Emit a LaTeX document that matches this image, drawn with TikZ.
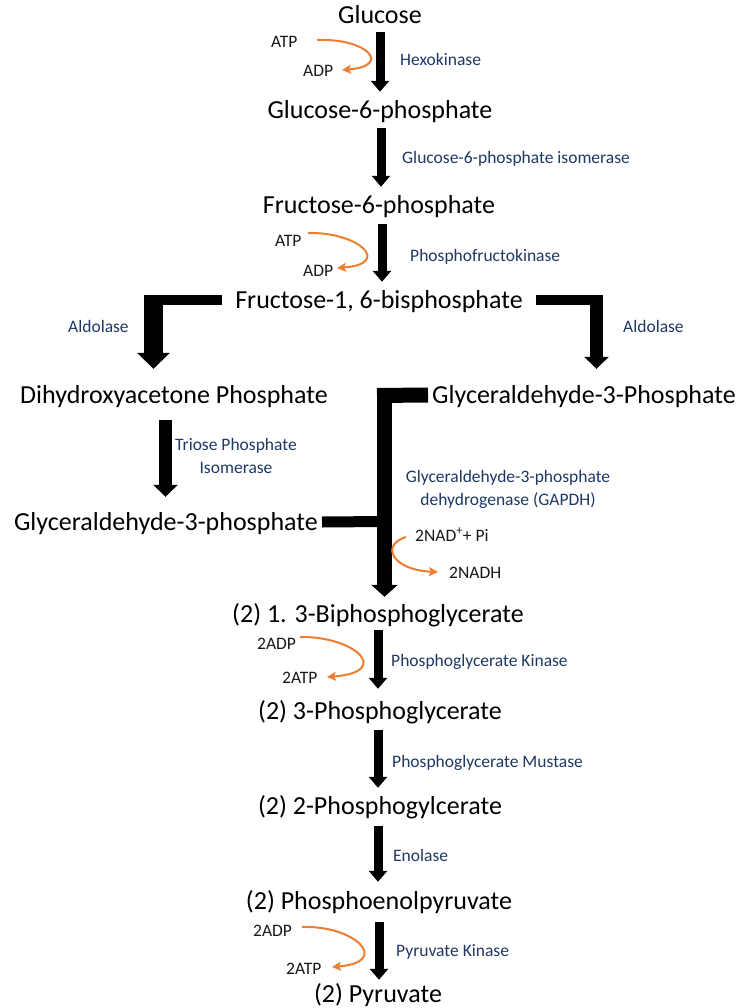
\documentclass[tikz,border=0pt]{standalone}
\usepackage{fontspec}
\setmainfont{Carlito}
\usetikzlibrary{arrows.meta}
\definecolor{enzc}{HTML}{1F3864}
\definecolor{orgc}{HTML}{ED7D31}
\begin{document}
\begin{tikzpicture}[x=1pt,y=-1pt,
  main/.style={font=\fontsize{26}{30}\selectfont, inner sep=0pt, text height=20pt, text depth=4pt},
  enz/.style={font=\fontsize{17.5}{22.5}\selectfont, text=enzc, inner sep=0pt, align=center},
  enzw/.style={enz, anchor=west, text height=12.5pt, text depth=3.5pt},
  cof/.style={font=\fontsize{17.5}{20}\selectfont, text=black!90, inner sep=0pt, anchor=west, text height=12pt, text depth=0pt},
  blk/.style={line width=9pt, -{Triangle[width=18pt,length=11pt]}},
  curv/.style={draw=orgc, line width=2pt, -{Stealth[length=9pt,width=9pt,inset=2pt]}}
]
\fill[white] (0,0) rectangle (744,1008);
\useasboundingbox (0,0) rectangle (744,1008);

% main compounds
\node[main] (glc) at (380,16) {Glucose};
\node[main] (g6p) at (380,111) {Glucose-6-phosphate};
\node[main] (f6p) at (379,206) {Fructose-6-phosphate};
\node[main] (f16) at (379,300) {Fructose-1, 6-bisphosphate};
\node[main] (dhap) at (174,395) {Dihydroxyacetone Phosphate};
\node[main, anchor=west] (gapr) at (432,395) {Glyceraldehyde-3-Phosphate};
\node[main, anchor=east] (gapl) at (318,522) {Glyceraldehyde-3-phosphate};
\node[main] (bpg) at (378,614) {(2) 1. 3-Biphosphoglycerate};
\node[main] (pg3) at (380,711) {(2) 3-Phosphoglycerate};
\node[main] (pg2) at (380,806) {(2) 2-Phosphogylcerate};
\node[main] (pep) at (379,901) {(2) Phosphoenolpyruvate};
\node[main] (pyr) at (378,994) {(2) Pyruvate};

% enzymes
\node[enzw] (e1) at (400,61.5) {Hexokinase};
\node[enzw] (e2) at (402,159.5) {Glucose-6-phosphate isomerase};
\node[enzw] (e3) at (410,256.5) {Phosphofructokinase};
\node[enzw] (e4) at (68,327.5) {Aldolase};
\node[enzw] (e5) at (623,327.5) {Aldolase};
\node[enz] (e6) at (236,456) {Triose Phosphate\\Isomerase};
\node[enz] (e7) at (508,489.5) {Glyceraldehyde-3-phosphate\\dehydrogenase (GAPDH)};
\node[enzw] (e8) at (391,661.5) {Phosphoglycerate Kinase};
\node[enzw] (e9) at (392,762.5) {Phosphoglycerate Mustase};
\node[enzw] (e10) at (393,856.5) {Enolase};
\node[enzw] (e11) at (396,951.5) {Pyruvate Kinase};

% cofactors
\node[cof] (atp1) at (271,42) {ATP};
\node[cof] (adp1) at (303,71) {ADP};
\node[cof] (atp2) at (275,240) {ATP};
\node[cof] (adp2) at (303,270) {ADP};
\node[cof] (adp3) at (257,643) {2ADP};
\node[cof] (atp3) at (282,677) {2ATP};
\node[cof] (adp4) at (253,930) {2ADP};
\node[cof] (atp4) at (286,968) {2ATP};
\node[cof] (nad) at (415,535) {2NAD\textsuperscript{+}+ Pi};
\node[cof] (nadh) at (449,572) {2NADH};

% straight arrows
\draw[blk, shorten <=4pt, shorten >=7pt] (glc.south) -- (glc.south |- g6p.north);
\draw[blk, shorten <=5pt, shorten >=7pt] ([xshift=1pt]g6p.south) -- ([xshift=1pt]g6p.south |- f6p.north);
\draw[blk, shorten <=6pt, shorten >=6pt] ([xshift=3pt]f6p.south) -- ([xshift=3pt]f6p.south |- f16.north);
\draw[blk, shorten <=4pt, shorten >=10pt] (bpg.south) -- (bpg.south |- pg3.north);
\draw[blk, shorten <=7pt, shorten >=6pt] ([xshift=-2pt]pg3.south) -- ([xshift=-2pt]pg3.south |- pg2.north);
\draw[blk, shorten <=8pt, shorten >=7pt] ([xshift=-2pt]pg2.south) -- ([xshift=-2pt]pg2.south |- pep.north);
\draw[blk, shorten <=9pt, shorten >=2pt] (pep.south) -- (pep.south |- pyr.north);

% aldolase bends
\coordinate (aLc) at (144,300);
\coordinate (aLv) at (153.5,295);
\draw[line width=10pt] ([xshift=-13pt]f16.west) -- (aLc);
\draw[line width=19pt, -{Triangle[width=32pt,length=16pt]}, shorten >=14pt] (aLv) -- (aLv |- dhap.north);
\coordinate (aRc) at (603,300);
\coordinate (aRv) at (596.5,295);
\draw[line width=10pt] ([xshift=13pt]f16.east) -- (aRc);
\draw[line width=13pt, -{Triangle[width=24pt,length=12pt]}, shorten >=14pt] (aRv) -- (aRv |- gapr.north);

% triose phosphate isomerase
\draw[line width=13pt, -{Triangle[width=24pt,length=12pt]}, shorten <=13pt, shorten >=13pt]
  ([xshift=-8.5pt]dhap.south) -- ([xshift=-8.5pt]dhap.south |- gapl.north);

% GAPDH
\coordinate (gc) at (377,395.5);
\coordinate (gv) at (384.5,388);
\coordinate (gj) at (384.5,521.5);
\draw[line width=15pt] ([xshift=-4pt]gapr.west) -- (gc);
\draw[line width=15pt, -{Triangle[width=26pt,length=12pt]}, shorten >=5pt] (gv) -- (gv |- bpg.north);
\draw[line width=11pt] ([xshift=4pt]gapl.east) -- (gj);

% cofactor curves
\draw[curv] ([xshift=46pt,yshift=2pt]atp1.west) .. controls +(51,-2) and +(50,-4) .. ([xshift=39pt,yshift=1pt]adp1.west);
\draw[curv] ([xshift=33pt,yshift=7pt]atp2.west) .. controls +(52,-1) and +(55,-4) .. ([xshift=34pt,yshift=2pt]adp2.west);
\draw[curv] ([xshift=43pt,yshift=6pt]adp3.west) .. controls +(55,-1) and +(66,-5) .. ([xshift=45pt]atp3.west);
\draw[curv] ([xshift=49pt,yshift=3pt]adp4.west) .. controls +(53,-2) and +(60,-5) .. ([xshift=46pt,yshift=1pt]atp4.west);
\draw[curv] ([xshift=-9pt,yshift=-2pt]nad.west) .. controls +(-26,8) and +(-46,-2) .. ([xshift=-11pt]nadh.west);
\end{tikzpicture}
\end{document}
